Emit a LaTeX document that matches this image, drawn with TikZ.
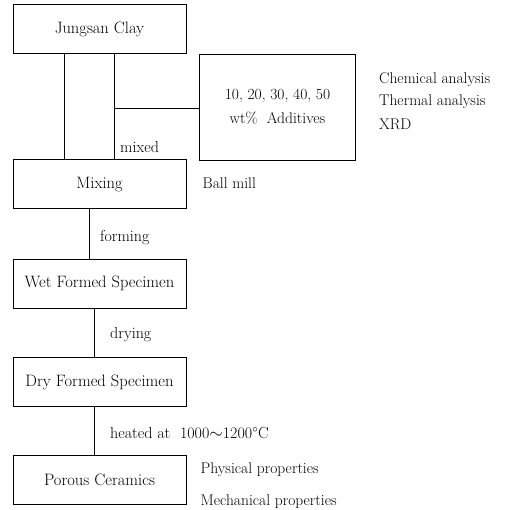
\documentclass[tikz,border=0pt]{standalone}
\usepackage{amsmath}
\usepackage{tikz}
\usetikzlibrary{shapes,arrows,calc,positioning}

\tikzset{
  stepbox/.style={draw, line width=1pt, minimum width=173pt, minimum height=49pt,
    font=\fontsize{16.5}{19}\selectfont},
  note/.style={anchor=west, inner sep=0pt, font=\fontsize{15.5}{18}\selectfont},
  steplabel/.style={note, font=\fontsize{16}{18}\selectfont},
  link/.style={line width=0.8pt}
}

\begin{document}
\begin{tikzpicture}[x=1pt,y=-1pt,node distance=98pt,on grid]
      \useasboundingbox (0,0) rectangle (509,510);

      \node[stepbox] (clay) at (99.5,29) {Jungsan Clay};
      \node[stepbox,minimum width=156pt,minimum height=106pt,font=\fontsize{15.5}{18}\selectfont] (add)
        [below right=79pt and 178pt of clay] {
        \begin{tabular}{c}
          10,\ 20,\ 30,\ 40,\ 50\\[6pt]
          wt\%\ \ Additives
        \end{tabular}
      };
      \node[stepbox] (mix) [below=155.5pt of clay] {Mixing};
      \node[stepbox] (wet) [below=99pt of mix] {Wet Formed Specimen};
      \node[stepbox] (dry) [below=98.5pt of wet] {Dry Formed Specimen};
      \node[stepbox] (porous) [below=98pt of dry] {Porous Ceramics};

      % side notes
      \node[note] (chem) at ([xshift=23pt,yshift=28pt]add.east) {Chemical analysis};
      \node[note] (therm) at ([xshift=23pt,yshift=6pt]add.east) {Thermal analysis};
      \node[note] (xrd) at ([xshift=23pt,yshift=-16pt]add.east) {XRD};
      \node[note] (ball) at ([xshift=16pt,yshift=1pt]mix.east) {Ball mill};
      \node[note] (phys) at ([xshift=14pt,yshift=10pt]porous.east) {Physical properties};
      \node[note] (mech) at ([xshift=14pt,yshift=-22pt]porous.east) {Mechanical properties};

      % connectors
      \coordinate (rjoin) at ([xshift=14.5pt]clay.south);
      \draw[link] ([xshift=-35.5pt]clay.south) -- ([xshift=-35.5pt]mix.north);
      \draw[link] (rjoin) -- ([xshift=14.5pt]mix.north);
      \draw[link] (add.west) -- (add.west -| rjoin);
      \draw[link] ([xshift=-10.5pt]mix.south) -- ([xshift=-10.5pt]wet.north);
      \draw[link] ([xshift=-5.5pt]wet.south) -- ([xshift=-5.5pt]dry.north);
      \draw[link] ([xshift=-5.5pt]dry.south) -- ([xshift=-5.5pt]porous.north);

      % step labels
      \node[steplabel] (mixed) at ([xshift=6pt,yshift=-93pt]rjoin) {mixed};
      \node[steplabel] (forming) at ([xshift=0.5pt,yshift=21pt]wet.north) {forming};
      \node[steplabel] (drying) at ([xshift=10.5pt,yshift=22pt]dry.north) {drying};
      \node[steplabel] (heated) at ([xshift=10.5pt,yshift=22pt]porous.north) {heated at\ \ 1000$\sim$1200$^{\circ}$C};
    \end{tikzpicture}
\end{document}
